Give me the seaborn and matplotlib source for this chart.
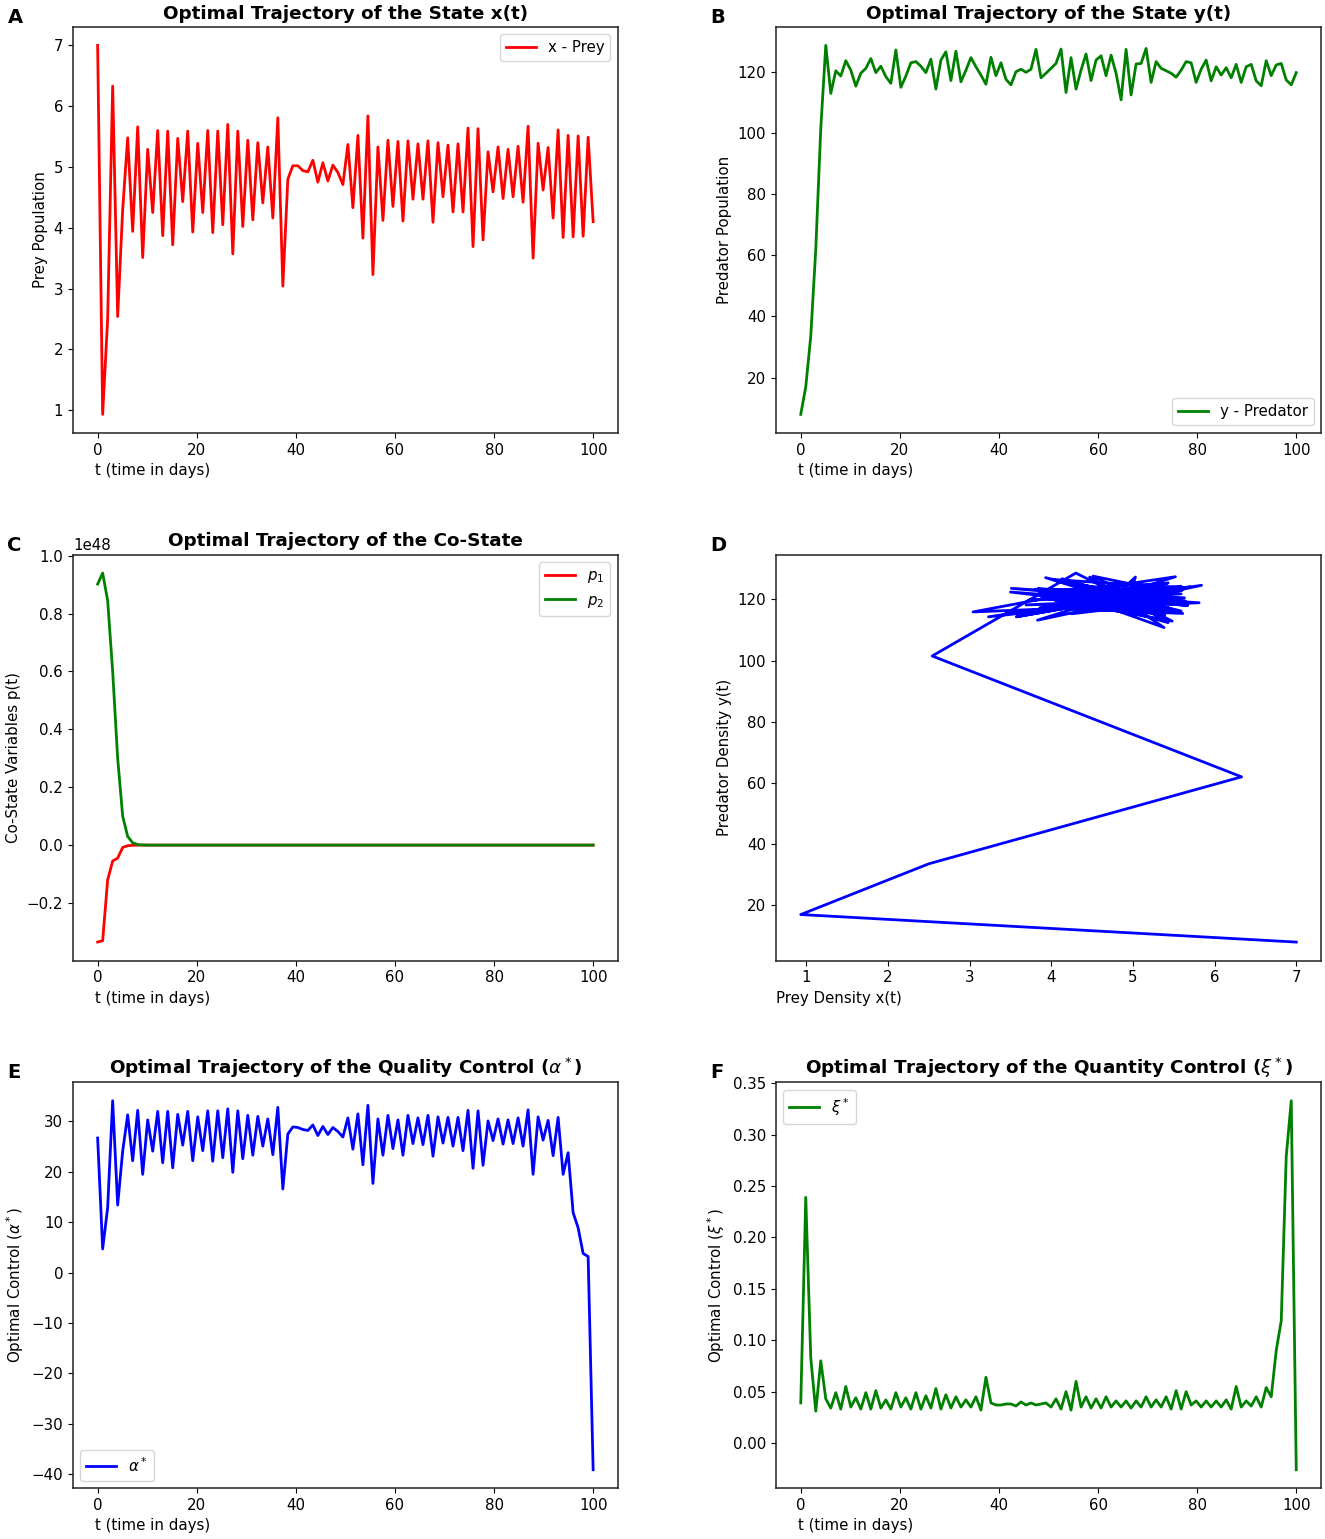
import numpy as np
import seaborn as sns
import matplotlib
matplotlib.use("Agg")
import matplotlib.pyplot as plt

# time grid (100 samples over 100 days)
t = np.linspace(0, 100, 100)

# prey x(t)
prey = [7.0, 0.93, 2.5, 6.33, 2.54, 4.3, 5.48, 3.94, 5.66, 3.51,
        5.29, 4.25, 5.60, 3.87, 5.59, 3.72, 5.47, 4.43, 5.59, 3.93,
        5.39, 4.25, 5.60, 3.92, 5.59, 4.05, 5.70, 3.57, 5.59, 4.02,
        5.44, 4.13, 5.40, 4.41, 5.33, 4.16, 5.81, 3.04, 4.80, 5.02,
        5.02, 4.94, 4.92, 5.11, 4.75, 5.07, 4.77, 5.03, 4.91, 4.71,
        5.37, 4.33, 5.52, 3.83, 5.84, 3.23, 5.33, 4.12, 5.44, 4.35,
        5.42, 4.11, 5.43, 4.47, 5.38, 4.47, 5.43, 4.09, 5.40, 4.51,
        5.36, 4.26, 5.38, 4.26, 5.64, 3.69, 5.63, 3.80, 5.25, 4.59,
        5.33, 4.48, 5.29, 4.51, 5.34, 4.42, 5.67, 3.50, 5.39, 4.62,
        5.32, 4.16, 5.61, 3.84, 5.52, 3.85, 5.51, 3.86, 5.49, 4.10]

# predator y(t)
predator = [8.0, 17.0, 33.6, 62.0, 101.5, 128.6, 112.9, 120.3, 118.6, 123.6,
            120.5, 115.3, 119.5, 121.1, 124.3, 119.7, 121.8, 118.4, 116.2, 127.1,
            114.9, 118.6, 122.9, 123.3, 121.8, 119.7, 124.1, 114.3, 123.8, 126.5,
            117.1, 126.7, 116.7, 120.5, 124.6, 121.6, 118.9, 115.9, 124.7, 118.7,
            122.9, 117.5, 115.7, 120.0, 120.8, 119.8, 120.8, 127.3, 118.0, 119.5,
            121.1, 122.7, 127.4, 113.2, 124.6, 114.3, 120.5, 125.8, 117.1, 123.8,
            125.2, 118.7, 125.4, 119.5, 110.8, 127.3, 112.4, 122.5, 122.7, 127.6,
            116.5, 123.3, 121.1, 120.3, 119.5, 118.2, 120.5, 123.3, 122.9, 116.5,
            120.8, 123.8, 117.0, 121.6, 118.9, 121.3, 118.0, 122.4, 116.5, 121.6,
            122.4, 117.0, 115.4, 123.6, 118.7, 122.2, 122.7, 117.3, 115.7, 119.7]

# co-state variables (units of 1e48); zero after the first few days
p1_start = [-0.335, -0.33, -0.12, -0.055, -0.045, -0.008, -0.002, -0.0005]
p2_start = [0.902, 0.94, 0.845, 0.60, 0.30, 0.10, 0.03, 0.008, 0.002, 0.0005]
p1 = np.zeros(100)
p1[:len(p1_start)] = p1_start
p2 = np.zeros(100)
p2[:len(p2_start)] = p2_start
p1 = p1 * 1e48
p2 = p2 * 1e48

# quality control alpha*
alpha = [26.7, 4.7, 12.9, 34.1, 13.4, 24.1, 31.3, 22.2, 32.2, 19.5,
         30.3, 24.1, 32.0, 21.8, 32.0, 20.8, 31.4, 25.3, 32.0, 22.2,
         30.9, 24.2, 32.1, 22.1, 32.1, 22.8, 32.5, 19.9, 32.1, 22.6,
         31.2, 23.3, 31.0, 25.1, 30.5, 23.4, 32.8, 16.6, 27.5, 28.9,
         28.8, 28.4, 28.2, 29.3, 27.2, 29.0, 27.4, 28.8, 28.0, 26.9,
         30.7, 24.5, 31.5, 21.4, 33.2, 17.7, 30.5, 23.3, 31.2, 24.6,
         30.3, 23.3, 31.2, 25.6, 30.7, 25.4, 31.2, 23.1, 30.9, 25.7,
         30.8, 25.1, 30.8, 24.2, 32.2, 20.7, 32.1, 21.3, 30.1, 26.2,
         30.5, 25.5, 30.3, 25.6, 30.7, 25.1, 32.3, 19.5, 30.9, 26.3,
         30.2, 23.2, 30.8, 19.5, 23.8, 11.9, 8.9, 3.8, 3.2, -39.1]

# quantity control xi*
xi = [0.039, 0.239, 0.083, 0.031, 0.080, 0.043, 0.034, 0.049, 0.033, 0.055,
      0.035, 0.044, 0.033, 0.049, 0.033, 0.051, 0.034, 0.042, 0.033, 0.049,
      0.035, 0.044, 0.033, 0.049, 0.033, 0.046, 0.034, 0.053, 0.033, 0.047,
      0.034, 0.045, 0.035, 0.042, 0.035, 0.045, 0.032, 0.064, 0.039, 0.037,
      0.037, 0.038, 0.038, 0.036, 0.040, 0.037, 0.039, 0.037, 0.038, 0.039,
      0.035, 0.043, 0.033, 0.050, 0.032, 0.060, 0.035, 0.045, 0.034, 0.043,
      0.034, 0.045, 0.035, 0.041, 0.035, 0.041, 0.034, 0.041, 0.035, 0.045,
      0.035, 0.042, 0.035, 0.045, 0.033, 0.051, 0.033, 0.050, 0.037, 0.041,
      0.035, 0.041, 0.035, 0.041, 0.035, 0.042, 0.033, 0.055, 0.035, 0.041,
      0.036, 0.045, 0.035, 0.054, 0.045, 0.090, 0.119, 0.279, 0.333, -0.026]

plt.rcParams.update({
    "font.size": 10.8,
    "axes.titlesize": 13.2,
    "axes.titleweight": "bold",
    "axes.labelsize": 10.8,
    "xtick.labelsize": 10.8,
    "ytick.labelsize": 10.8,
    "legend.fontsize": 10.8,
    "axes.linewidth": 1.1,
    "axes.edgecolor": "#222222",
})

fig, axes = plt.subplots(3, 2, figsize=(13.25, 15.39), dpi=100)
fig.subplots_adjust(left=0.055, right=0.997, top=0.9825, bottom=0.033,
                    wspace=0.29, hspace=0.30)
lw = 2

# A: prey
ax = axes[0, 0]
sns.lineplot(x=t, y=prey, color="red", lw=lw, label="x - Prey", ax=ax)
ax.set_title("Optimal Trajectory of the State x(t)")
ax.set_xlabel("t (time in days)", loc="left")
ax.set_ylabel("Prey Population")
ax.legend(loc="upper right")

# B: predator
ax = axes[0, 1]
sns.lineplot(x=t, y=predator, color="green", lw=lw, label="y - Predator", ax=ax)
ax.set_title("Optimal Trajectory of the State y(t)")
ax.set_xlabel("t (time in days)", loc="left")
ax.set_ylabel("Predator Population")
ax.legend(loc="lower right")

# C: co-states
ax = axes[1, 0]
sns.lineplot(x=t, y=p1, color="red", lw=lw, label="$p_1$", ax=ax)
sns.lineplot(x=t, y=p2, color="green", lw=lw, label="$p_2$", ax=ax)
ax.set_title("Optimal Trajectory of the Co-State")
ax.set_xlabel("t (time in days)", loc="left")
ax.set_ylabel("Co-State Variables p(t)")
ax.legend(loc="upper right")

# D: phase portrait
ax = axes[1, 1]
sns.lineplot(x=prey, y=predator, sort=False, estimator=None, color="blue", lw=lw, ax=ax)
ax.set_xlabel("Prey Density x(t)", loc="left")
ax.set_ylabel("Predator Density y(t)")

# E: alpha*
ax = axes[2, 0]
sns.lineplot(x=t, y=alpha, color="blue", lw=lw, label=r"$\alpha^*$", ax=ax)
ax.set_title(r"Optimal Trajectory of the Quality Control ($\alpha^*$)")
ax.set_xlabel("t (time in days)", loc="left")
ax.set_ylabel(r"Optimal Control ($\alpha^*$)")
ax.legend(loc="lower left")

# F: xi*
ax = axes[2, 1]
sns.lineplot(x=t, y=xi, color="green", lw=lw, label=r"$\xi^*$", ax=ax)
ax.set_title(r"Optimal Trajectory of the Quantity Control ($\xi^*$)")
ax.set_xlabel("t (time in days)", loc="left")
ax.set_ylabel(r"Optimal Control ($\xi^*$)")
ax.legend(loc="upper left")

# x labels start under the t=0 tick, except the phase plot
for a in axes.flat:
    a.xaxis.label.set_x(0.04)
axes[1, 1].xaxis.label.set_x(0.0)

for a, letter in zip(axes.flat, "ABCDEF"):
    a.text(-0.12, 1.047, letter, transform=a.transAxes, fontsize=14,
           fontweight="bold", va="top", ha="left")

fig.savefig("out.png", dpi=100)
